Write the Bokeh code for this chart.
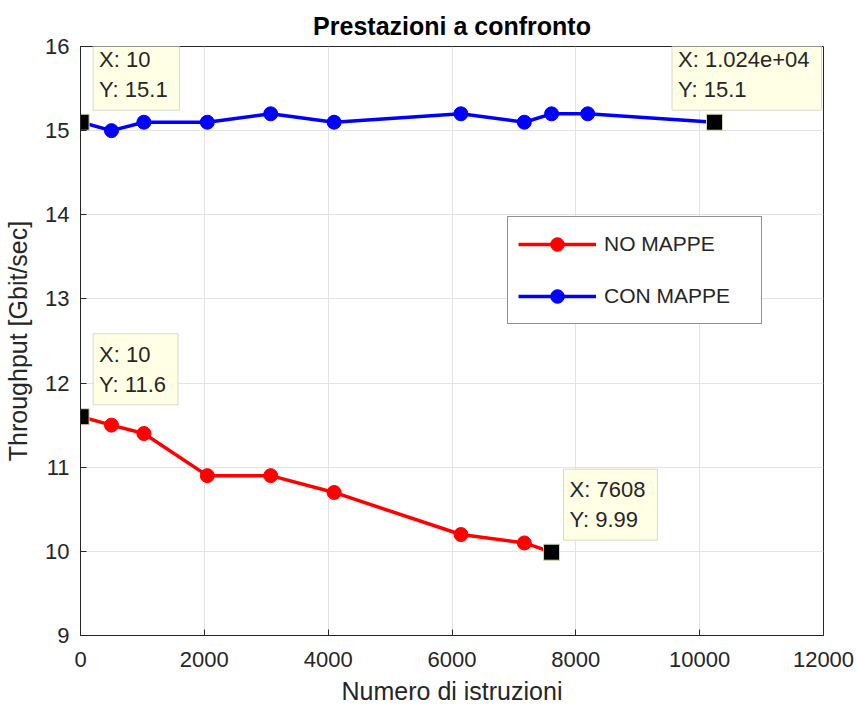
from bokeh.plotting import figure
from bokeh.models import (Range1d, FixedTicker, Label, Legend, LegendItem)
from bokeh.embed import file_html
from bokeh.resources import INLINE

# ---- data ----
x_no = [10, 500, 1024, 2048, 3072, 4096, 6144, 7168, 7608]
y_no = [11.6, 11.5, 11.4, 10.9, 10.9, 10.7, 10.2, 10.1, 9.99]
x_con = [10, 500, 1024, 2048, 3072, 4096, 6144, 7168, 7608, 8192, 10240]
y_con = [15.1, 15.0, 15.1, 15.1, 15.2, 15.1, 15.2, 15.1, 15.2, 15.2, 15.1]
series_names = ["NO MAPPE", "CON MAPPE"]
x_ticks = [0, 2000, 4000, 6000, 8000, 10000, 12000]
y_ticks = [9, 10, 11, 12, 13, 14, 15, 16]
# data tips
tip_x = [x_con[0], x_con[-1], x_no[0], x_no[-1]]
tip_y = [y_con[0], y_con[-1], y_no[0], y_no[-1]]
tip_text = ["X: 10\nY: 15.1", "X: 1.024e+04\nY: 15.1", "X: 10\nY: 11.6", "X: 7608\nY: 9.99"]
# which side of the point each tip box sits on (the long one is kept inside the frame)
tip_side = ["right", "left", "right", "right"]

FONT = "Liberation Sans"
AX = "#262626"

p = figure(width=857, height=707, output_backend="svg", toolbar_location=None,
           x_range=Range1d(0, 12000), y_range=Range1d(9, 16),
           min_border_left=80, min_border_right=34, min_border_top=46, min_border_bottom=71,
           title="Prestazioni a confronto")
p.title.text_font = FONT
p.title.text_font_size = "25px"
p.title.text_font_style = "bold"
p.title.text_color = "#000000"
p.title.align = "center"
p.title.standoff = 14

p.outline_line_color = AX
p.outline_line_width = 1
p.background_fill_color = "white"
p.border_fill_color = "white"

for ax in (p.xaxis[0], p.yaxis[0]):
    ax.axis_line_color = AX
    ax.major_tick_line_color = AX
    ax.major_tick_in = 6
    ax.major_tick_out = 0
    ax.minor_tick_line_color = None
    ax.major_label_text_font = FONT
    ax.major_label_text_font_size = "22px"
    ax.major_label_text_color = AX
    ax.axis_label_text_font = FONT
    ax.axis_label_text_font_size = "25px"
    ax.axis_label_text_font_style = "normal"
    ax.axis_label_text_color = AX

p.xaxis.ticker = FixedTicker(ticks=x_ticks)
p.yaxis.ticker = FixedTicker(ticks=y_ticks)
p.xaxis.axis_label = "Numero di istruzioni"
p.yaxis.axis_label = "Throughput [Gbit/sec]"
p.xaxis.major_label_standoff = 16
p.yaxis.major_label_standoff = 11
p.xaxis.axis_label_standoff = 7
p.yaxis.axis_label_standoff = 10

p.grid.grid_line_color = "#E3E3E3"
p.grid.grid_line_width = 1
p.xgrid.ticker = FixedTicker(ticks=x_ticks)
p.ygrid.ticker = FixedTicker(ticks=y_ticks)

RED = "#FF0000"
BLUE = "#0000FF"
l1 = p.line(x_no, y_no, line_color=RED, line_width=3.5)
s1 = p.scatter(x_no, y_no, marker="circle", size=14, fill_color=RED, line_color=RED)
l2 = p.line(x_con, y_con, line_color=BLUE, line_width=3.5)
s2 = p.scatter(x_con, y_con, marker="circle", size=14, fill_color=BLUE, line_color=BLUE)

# data tip markers
p.scatter(tip_x, tip_y, marker="square", size=16, fill_color="#000000",
          line_color="#D8D8B0", line_width=1)

for tx, ty, tt, side in zip(tip_x, tip_y, tip_text, tip_side):
    if side == "right":
        anchor, xo = "bottom_left", 12
    else:
        anchor, xo = "bottom_right", 107
    lab = Label(x=tx, y=ty, x_units="data", y_units="data", text=tt,
                x_offset=xo, y_offset=12, anchor=anchor,
                text_font=FONT, text_font_size="22px", text_color=AX,
                text_line_height=1.2,
                background_fill_color="#FFFFE6", background_fill_alpha=1.0,
                border_line_color="#D9D9C4", border_line_width=1,
                padding=(6, 12, 8, 8))
    p.add_layout(lab)

legend = Legend(items=[LegendItem(label=series_names[0], renderers=[l1, s1]),
                       LegendItem(label=series_names[1], renderers=[l2, s2])],
                location=(427, 311), orientation="vertical",
                glyph_width=78, glyph_height=34, label_standoff=8,
                label_width=147, spacing=18, padding=10, margin=0,
                label_text_font=FONT, label_text_font_size="21px", label_text_color=AX,
                border_line_color=AX, border_line_width=1,
                background_fill_color="white", background_fill_alpha=1.0)
p.add_layout(legend, "center")

open("out.html", "w").write(file_html(p, INLINE))
